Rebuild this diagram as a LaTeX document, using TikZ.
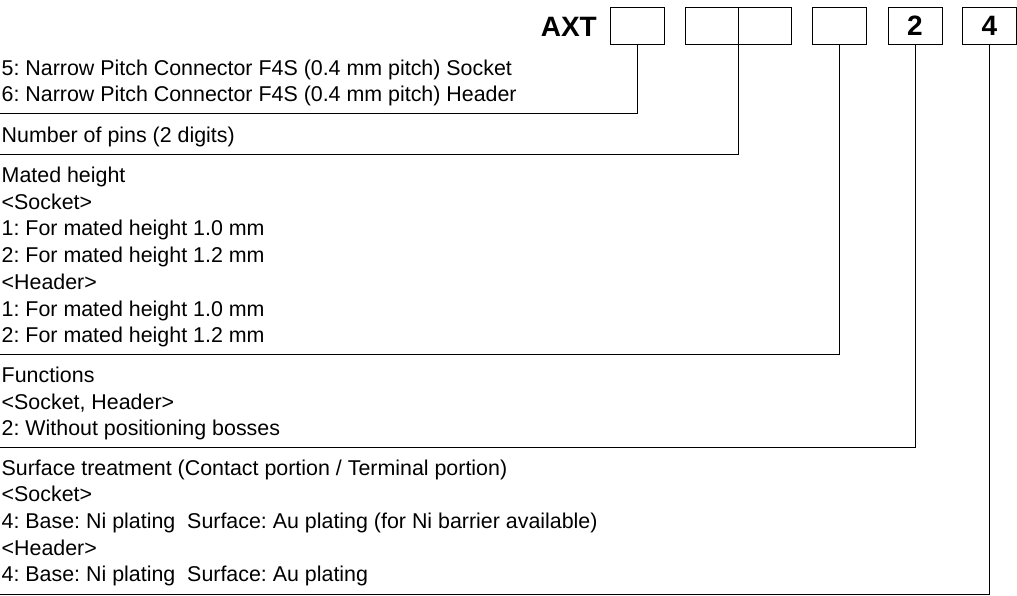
\documentclass[tikz,border=0pt]{standalone}
\usepackage{fontspec}
\setmainfont{Liberation Sans}
\frenchspacing
\begin{document}
\begin{tikzpicture}[x=1pt, y=-1pt,
    digit/.style={draw, line width=0.8pt, minimum width=54pt, minimum height=37pt, inner sep=0pt, font=\fontsize{28}{30}\selectfont\bfseries},
    spec/.style={anchor=base west, inner sep=0pt, align=left, font=\fontsize{21.4}{26.7}\selectfont},
    lead/.style={line width=0.9pt}]
  \useasboundingbox (0,0) rectangle (1017,596);

  % Part number boxes
  \node[anchor=base east, inner sep=0pt, font=\fontsize{28}{30}\selectfont\bfseries] at (597, 36.7) (prefix) {AXT};
  \node[digit] at (637.5, 25.7) (series) {};
  \node[digit, minimum width=53pt] at (711.5, 25.7) (pinsA) {};
  \node[digit, minimum width=53pt] at (764.5, 25.7) (pinsB) {};
  \node[digit] at (839.5, 25.7) (height) {};
  \node[digit] at (915, 25.7) (func) {2};
  \node[digit] at (989.5, 25.7) (plating) {4};

  % Descriptions (placed at the baseline of their last line)
  \node[spec] at (1.5, 102) (seriesText) {5: Narrow Pitch Connector F4S (0.4 mm pitch) Socket\\6: Narrow Pitch Connector F4S (0.4 mm pitch) Header};
  \node[spec] at (1.5, 143) (pinsText) {Number of pins (2 digits)};
  \node[spec] at (1.5, 342.7) (heightText) {Mated height\\<Socket>\\1: For mated height 1.0 mm\\2: For mated height 1.2 mm\\<Header>\\1: For mated height 1.0 mm\\2: For mated height 1.2 mm};
  \node[spec] at (1.5, 435.7) (funcText) {Functions\\<Socket, Header>\\2: Without positioning bosses};
  \node[spec] at (1.5, 581.8) (platingText) {Surface treatment (Contact portion / Terminal portion)\\<Socket>\\4: Base: Ni plating~~Surface: Au plating (for Ni barrier available)\\<Header>\\4: Base: Ni plating~~Surface: Au plating};

  % Leader lines
  \coordinate (seriesEnd) at (0, 113);
  \coordinate (pinsEnd) at (0, 154);
  \coordinate (heightEnd) at (0, 354);
  \coordinate (funcEnd) at (0, 447);
  \coordinate (platingEnd) at (0, 594);

  \draw[lead] (series.south) |- (seriesEnd);
  \draw[lead] (pinsA.south east) |- (pinsEnd);
  \draw[lead] (height.south) |- (heightEnd);
  \draw[lead] (func.south) |- (funcEnd);
  \draw[lead] (plating.south) |- (platingEnd);

\end{tikzpicture}
\end{document}
